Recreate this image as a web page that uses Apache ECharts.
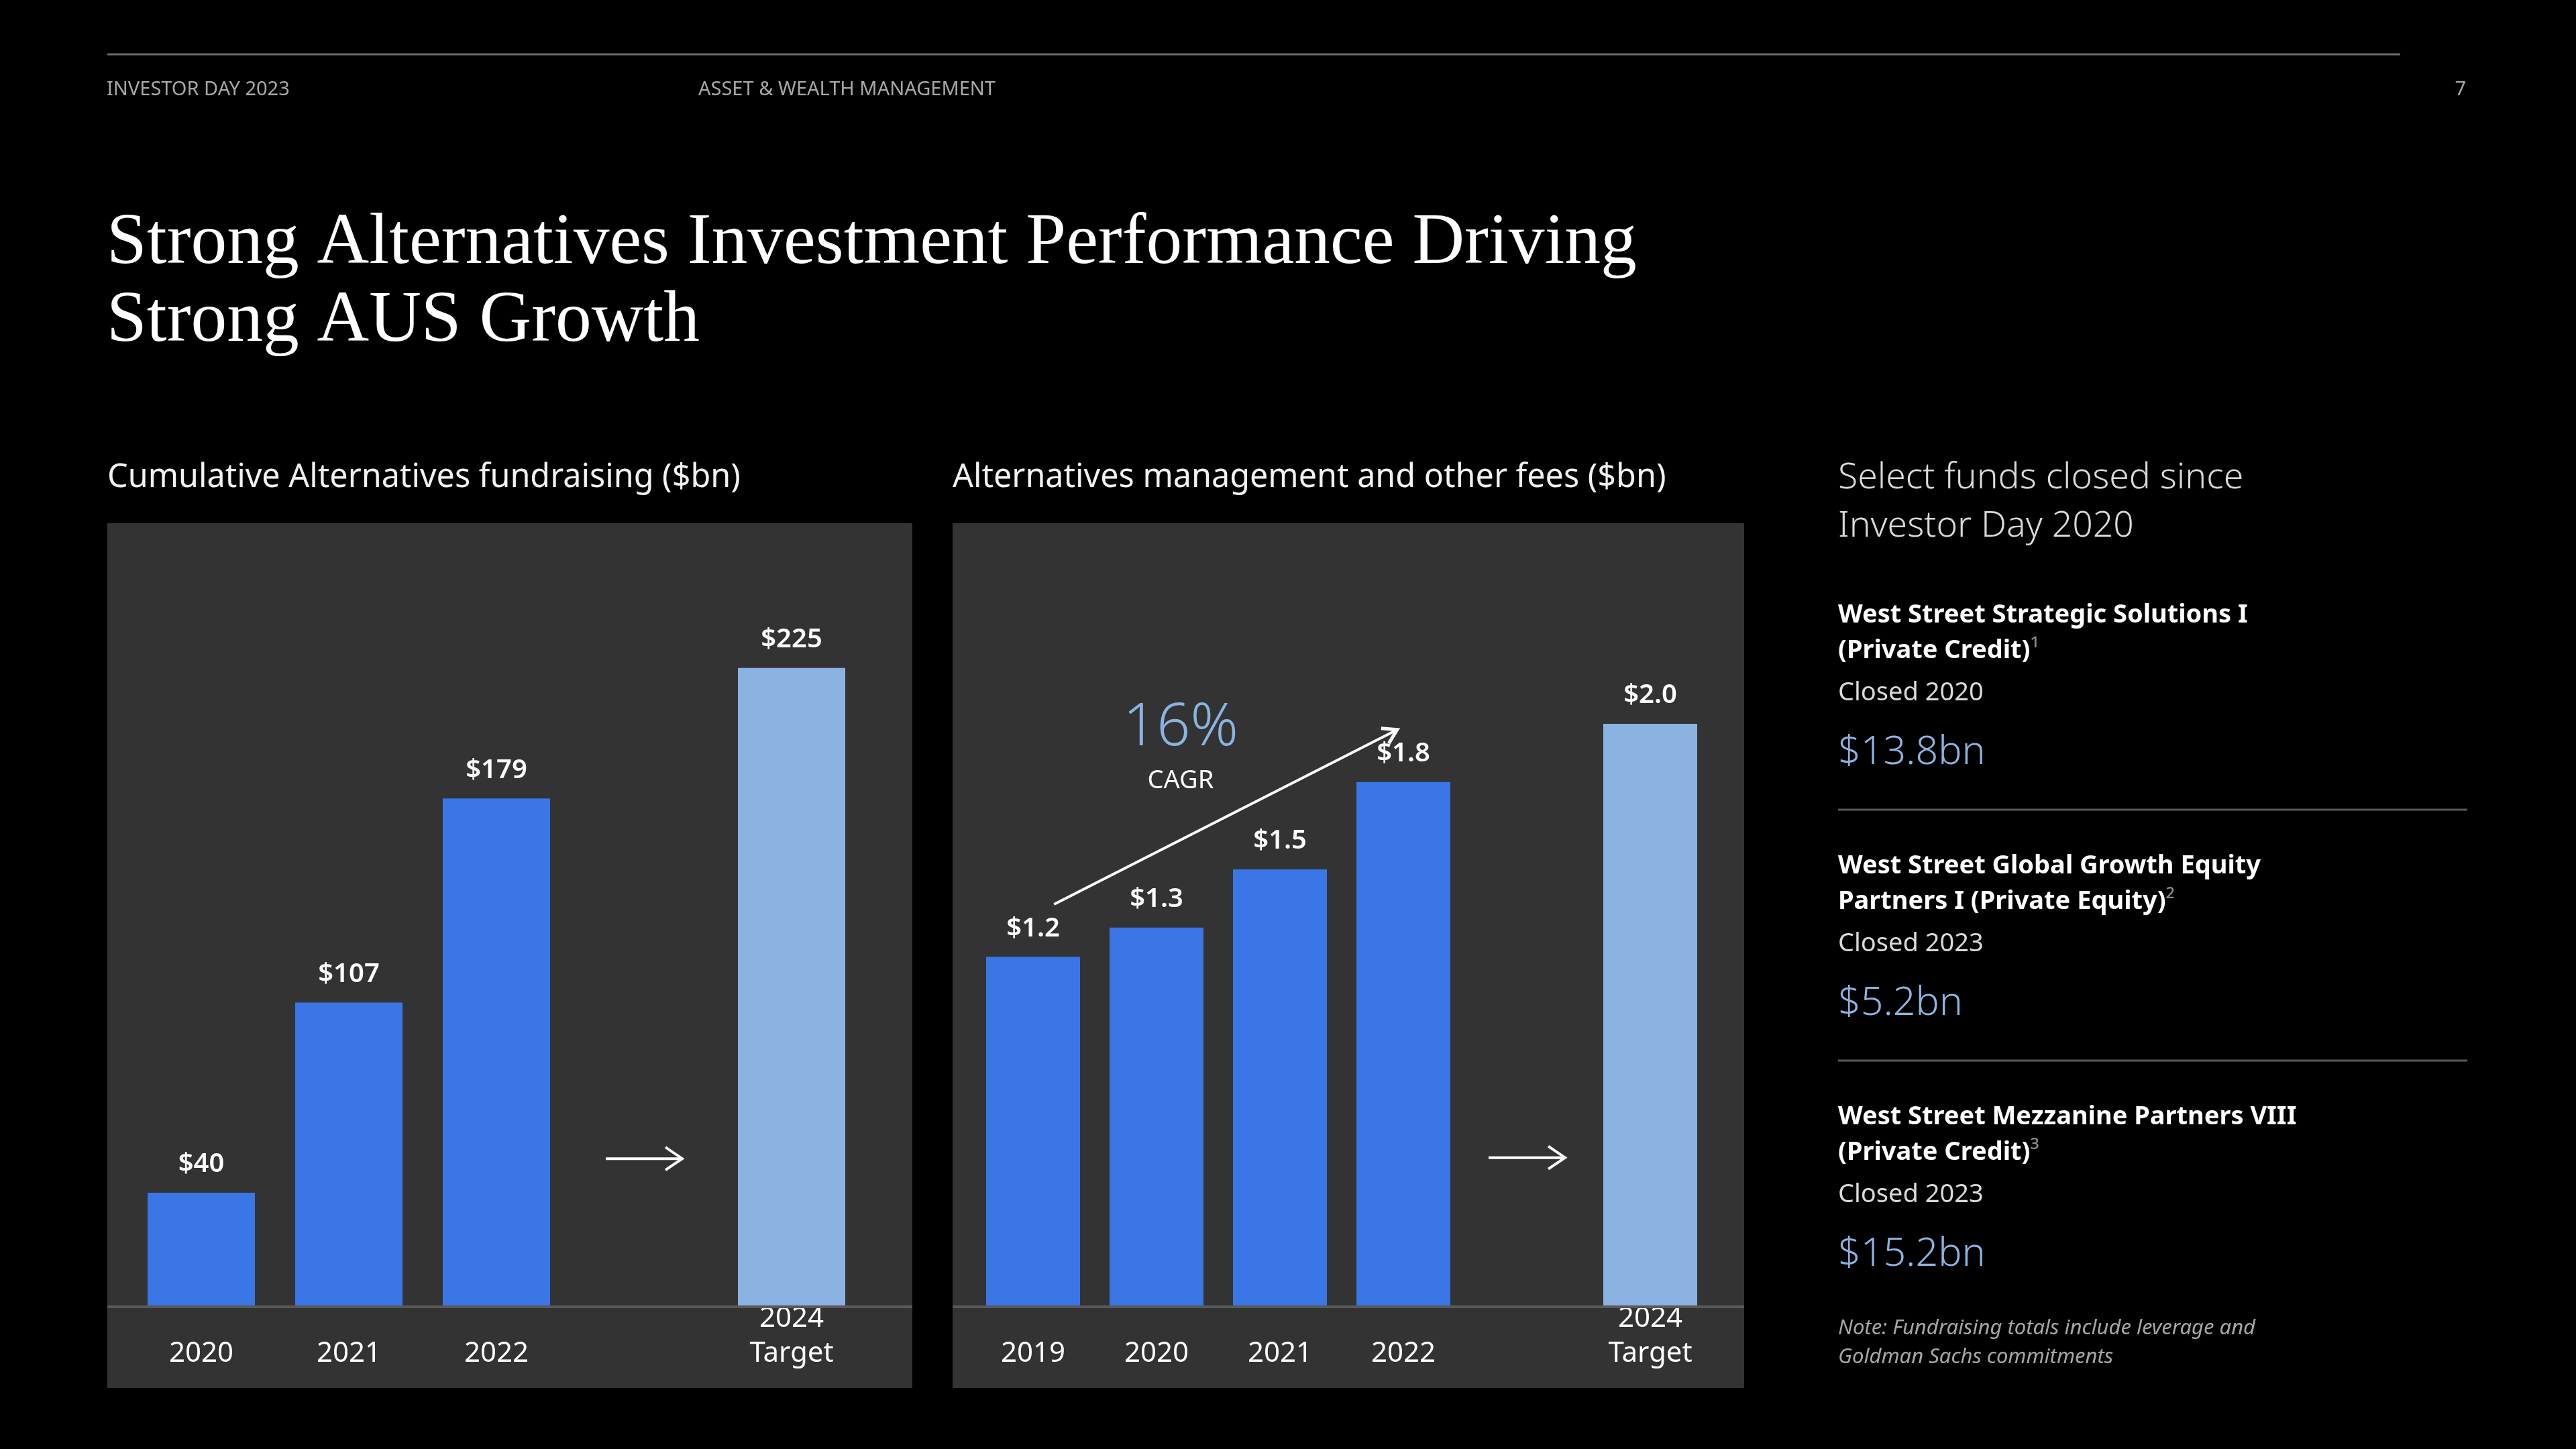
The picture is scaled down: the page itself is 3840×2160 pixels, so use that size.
<!DOCTYPE html>
<html>
<head>
<meta charset="utf-8">
<title>Strong Alternatives Investment Performance Driving Strong AUS Growth</title>
<script src="https://cdn.jsdelivr.net/npm/echarts@6/dist/echarts.min.js"></script>
<style>
  html, body { margin: 0; padding: 0; background: #000; }
  #chart { width: 3840px; height: 2160px; }
</style>
</head>
<body>
<div id="chart"></div>
<script>
// Cumulative Alternatives fundraising ($bn)
const fundCategories = ['2020', '2021', '2022', '', '2024\nTarget'];
const fundValues = [40, 107, 179, '-', 225];
const fundArrow = [[3, 52]];

// Alternatives management and other fees ($bn)
const feeCategories = ['2019', '2020', '2021', '2022', '', '2024\nTarget'];
const feeValues = [1.2, 1.3, 1.5, 1.8, '-', 2.0];
const feeArrow = [[4, 0.51]];
const cagrArrow = [[0, 1.38, 3, 1.98]];
const cagrValue = '16%';

// Select funds closed since Investor Day 2020
const fundNames = [
  ['West Street Strategic Solutions I', '(Private Credit)'],
  ['West Street Global Growth Equity', 'Partners I (Private Equity)'],
  ['West Street Mezzanine Partners VIII', '(Private Credit)']
];
const fundNotes = ['¹', '²', '³'];
const fundClosed = ['Closed 2020', 'Closed 2023', 'Closed 2023'];
const fundSizes = ['$13.8bn', '$5.2bn', '$15.2bn'];

const SANS = 'Noto Sans';
const SERIF = 'Liberation Serif';
const BLUE = '#3a76e6';
const LIGHT_BLUE = '#8bb3e1';
const PANEL = '#333333';

const chart = echarts.init(document.getElementById('chart'));

function txt(x, y, text, size, extra) {
  return {
    type: 'text',
    x: x,
    y: y,
    z: 20,
    silent: true,
    style: Object.assign({
      text: text,
      fontSize: size,
      fontFamily: SANS,
      fill: '#ffffff',
      align: 'left',
      verticalAlign: 'middle'
    }, extra || {})
  };
}

function hline(x1, x2, y, color, width) {
  return {
    type: 'line',
    z: 30,
    silent: true,
    shape: { x1: x1, y1: y, x2: x2, y2: y },
    style: { stroke: color, lineWidth: width }
  };
}

// horizontal "leads to" arrow, centred on a category slot
function renderFlowArrow(params, api) {
  const p = api.coord([api.value(0), api.value(1)]);
  const half = 57;
  return {
    type: 'group',
    children: [
      {
        type: 'line',
        shape: { x1: p[0] - half, y1: p[1], x2: p[0] + half, y2: p[1] },
        style: { stroke: '#fff', lineWidth: 4 }
      },
      {
        type: 'polyline',
        shape: { points: [[p[0] + half - 25, p[1] - 17], [p[0] + half, p[1]], [p[0] + half - 25, p[1] + 17]] },
        style: { stroke: '#fff', lineWidth: 4, fill: null }
      }
    ]
  };
}

// diagonal CAGR arrow
function renderCagrArrow(params, api) {
  const a = api.coord([api.value(0), api.value(1)]);
  const b = api.coord([api.value(2), api.value(3)]);
  const band = api.coord([1, api.value(1)])[0] - api.coord([0, api.value(1)])[0];
  const s = [a[0] + band * 0.17, a[1]];
  const e = [b[0] - band * 0.05, b[1]];
  const ang = Math.atan2(e[1] - s[1], e[0] - s[0]);
  const L = 24, spread = 0.55;
  const w1 = [e[0] - L * Math.cos(ang - spread), e[1] - L * Math.sin(ang - spread)];
  const w2 = [e[0] - L * Math.cos(ang + spread), e[1] - L * Math.sin(ang + spread)];
  return {
    type: 'group',
    children: [
      {
        type: 'line',
        shape: { x1: s[0], y1: s[1], x2: e[0], y2: e[1] },
        style: { stroke: '#fff', lineWidth: 4 }
      },
      {
        type: 'polyline',
        shape: { points: [w1, e, w2] },
        style: { stroke: '#fff', lineWidth: 5, fill: null }
      }
    ]
  };
}

const axisLabel = {
  color: '#ffffff',
  fontFamily: SANS,
  fontSize: 42,
  lineHeight: 52,
  verticalAlign: 'bottom',
  margin: 97,
  interval: 0
};

const barLabel = {
  show: true,
  position: 'top',
  distance: 22,
  color: '#ffffff',
  fontFamily: SANS,
  fontSize: 40,
  fontWeight: 600
};

// right column text
const right = [];
right.push(txt(2740, 713, 'Select funds closed since', 53.5, { fill: '#d9d9d9', fontWeight: 300 }));
right.push(txt(2740, 785, 'Investor Day 2020', 53.5, { fill: '#d9d9d9', fontWeight: 300 }));
fundNames.forEach(function (name, i) {
  const y0 = 917 + i * 374;
  right.push(txt(2740, y0, name[0], 38, { fontWeight: 'bold' }));
  right.push(txt(2740, y0 + 53, '{n|' + name[1] + '}{s|' + fundNotes[i] + '}', 38, {
    rich: {
      n: { fontSize: 38, fontWeight: 'bold', fontFamily: SANS, fill: '#ffffff', color: '#ffffff' },
      s: { fontSize: 38, fontFamily: SANS, fill: '#8a8a8a', color: '#8a8a8a' }
    }
  }));
  right.push(txt(2740, y0 + 116, fundClosed[i], 38, { fill: '#d9d9d9' }));
  right.push(txt(2740, y0 + 205, fundSizes[i], 59, { fill: LIGHT_BLUE, fontWeight: 300 }));
  if (i < fundNames.length - 1) right.push(hline(2740, 3678, y0 + 290, '#595959', 3));
});
right.push(txt(2740, 1980, 'Note: Fundraising totals include leverage and', 31, { fill: '#a6a6a6', fontStyle: 'italic' }));
right.push(txt(2740, 2023, 'Goldman Sachs commitments', 31, { fill: '#a6a6a6', fontStyle: 'italic' }));

const option = {
  backgroundColor: '#000000',
  animation: false,
  graphic: [
    hline(160, 3578, 81, '#6b6b6b', 3),
    txt(159, 134, 'INVESTOR DAY 2023', 29, { fill: '#a8a8a8' }),
    txt(1041, 134, 'ASSET & WEALTH MANAGEMENT', 29, { fill: '#a8a8a8' }),
    txt(3676, 134, '7', 29, { fill: '#a8a8a8', align: 'right' }),
    txt(159, 364, 'Strong Alternatives Investment Performance Driving', 107.5, { fontFamily: SERIF }),
    txt(159, 480, 'Strong AUS Growth', 107.5, { fontFamily: SERIF }),
    txt(160, 712, 'Cumulative Alternatives fundraising ($bn)', 48.5, { fill: '#f2f2f2' }),
    txt(1420, 712, 'Alternatives management and other fees ($bn)', 48.5, { fill: '#f2f2f2' }),
    { type: 'rect', z: 0, silent: true, shape: { x: 160, y: 780, width: 1200, height: 1289 }, style: { fill: PANEL } },
    { type: 'rect', z: 0, silent: true, shape: { x: 1420, y: 780, width: 1180, height: 1289 }, style: { fill: PANEL } },
    hline(160, 1360, 1948, '#595959', 4),
    hline(1420, 2600, 1948, '#595959', 4),
    txt(1760, 1086, cagrValue, 88, { fill: LIGHT_BLUE, fontWeight: 300, align: 'center' }),
    txt(1760, 1164, 'CAGR', 38, { align: 'center' })
  ].concat(right),
  grid: [
    { left: 190, width: 1100, top: 890, bottom: 213 },
    { left: 1448, width: 1104, top: 862, bottom: 213 }
  ],
  xAxis: [
    {
      type: 'category', gridIndex: 0, data: fundCategories,
      axisLine: { show: false }, axisTick: { show: false }, axisLabel: axisLabel
    },
    {
      type: 'category', gridIndex: 1, data: feeCategories,
      axisLine: { show: false }, axisTick: { show: false }, axisLabel: axisLabel
    }
  ],
  yAxis: [
    { type: 'value', gridIndex: 0, min: 0, max: 250, show: false, splitLine: { show: false } },
    { type: 'value', gridIndex: 1, min: 0, max: 2.5, show: false, splitLine: { show: false } }
  ],
  series: [
    {
      name: 'Cumulative Alternatives fundraising',
      type: 'bar',
      xAxisIndex: 0,
      yAxisIndex: 0,
      z: 3,
      barWidth: 160,
      data: fundValues,
      itemStyle: {
        color: function (p) { return p.dataIndex === fundValues.length - 1 ? LIGHT_BLUE : BLUE; }
      },
      label: Object.assign({}, barLabel, {
        formatter: function (p) { return '$' + p.value; }
      })
    },
    {
      name: 'Alternatives management and other fees',
      type: 'bar',
      xAxisIndex: 1,
      yAxisIndex: 1,
      z: 3,
      barWidth: 140,
      data: feeValues,
      itemStyle: {
        color: function (p) { return p.dataIndex === feeValues.length - 1 ? LIGHT_BLUE : BLUE; }
      },
      label: Object.assign({}, barLabel, {
        formatter: function (p) { return '$' + Number(p.value).toFixed(1); }
      })
    },
    {
      type: 'custom', xAxisIndex: 0, yAxisIndex: 0, z: 5, silent: true,
      encode: { x: 0, y: 1 }, data: fundArrow, renderItem: renderFlowArrow
    },
    {
      type: 'custom', xAxisIndex: 1, yAxisIndex: 1, z: 5, silent: true,
      encode: { x: 0, y: 1 }, data: feeArrow, renderItem: renderFlowArrow
    },
    {
      type: 'custom', xAxisIndex: 1, yAxisIndex: 1, z: 5, silent: true,
      encode: { x: [0, 2], y: [1, 3] }, data: cagrArrow, renderItem: renderCagrArrow
    }
  ]
};

chart.setOption(option);
window.addEventListener('resize', function () { chart.resize(); });
</script>
</body>
</html>
